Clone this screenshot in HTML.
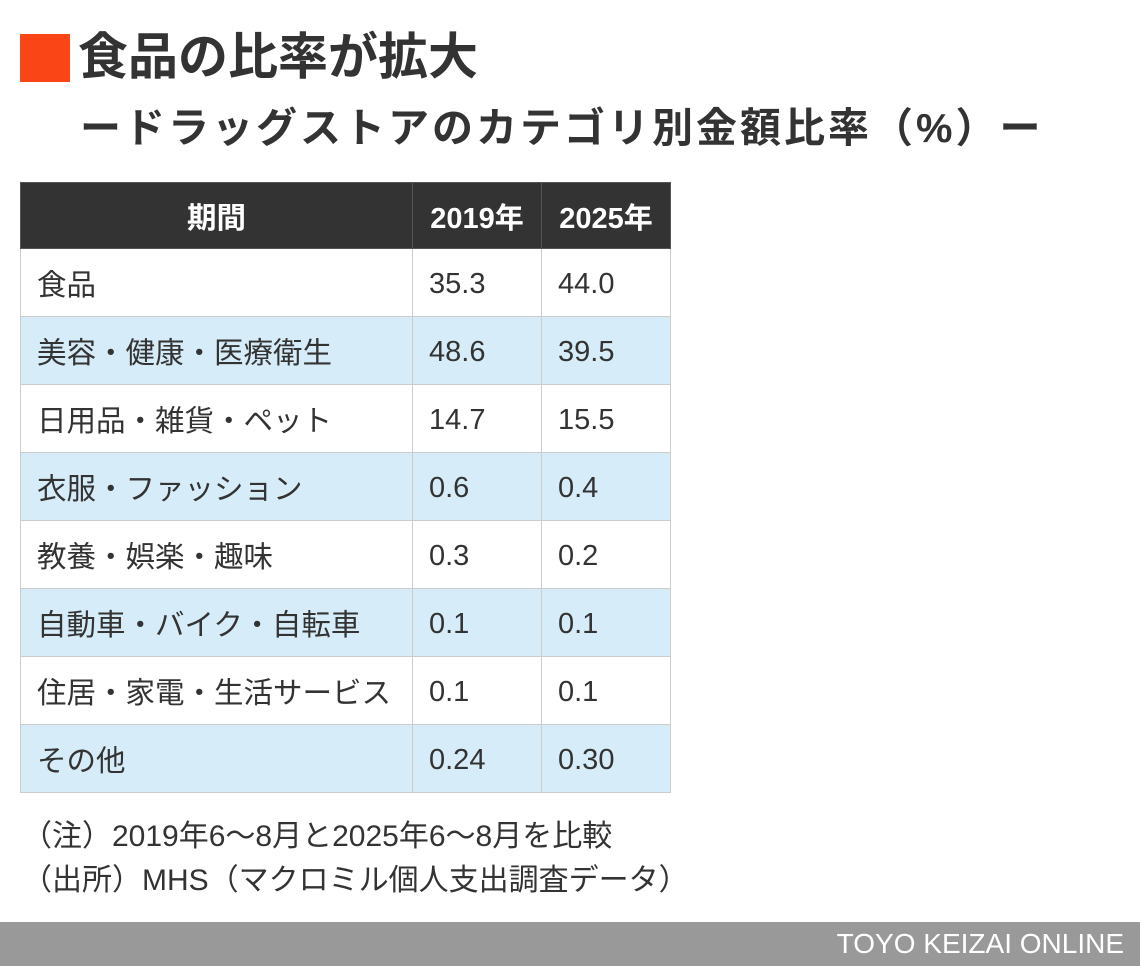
<!DOCTYPE html>
<html><head><meta charset="utf-8"><style>
*{margin:0;padding:0;box-sizing:border-box}
body{width:1140px;height:966px;background:#fff;position:relative;overflow:hidden;font-family:"Liberation Sans","Noto Sans CJK JP",sans-serif;color:#333}
.sq{position:absolute;left:20px;top:34px;width:50px;height:48px;background:#fa4616}
.t1{position:absolute;left:78px;top:26px;font-size:50px;font-weight:bold;line-height:62px;color:#333}
.t2{position:absolute;left:80px;top:102px;font-size:41px;font-weight:bold;line-height:52px;color:#333;letter-spacing:3px}
table{position:absolute;left:20px;top:182px;border-collapse:collapse;width:651px}
td{border:1px solid #ccc;height:68px;font-size:29.5px;padding-left:16px;vertical-align:middle}
td.n{width:129px;font-size:29px;padding-top:4px}
tr.h td{background:#333;color:#fff;font-weight:bold;height:66px;border-color:#555}
tr.h td.c{text-align:center;padding-left:0;padding-top:0}
tr.b td{background:#d6ecf8}
.note{position:absolute;left:22px;font-size:30px;color:#333;line-height:38px}
.foot{position:absolute;left:0;top:922px;width:1140px;height:44px;background:#999}
.foot span{position:absolute;right:16px;top:6px;color:#fff;font-size:28px}
</style></head><body>
<div class="sq"></div>
<div class="t1">食品の比率が拡大</div>
<div class="t2">ードラッグストアのカテゴリ別金額比率（%）ー</div>
<table>
<tr class="h"><td class="c" style="width:392px">期間</td><td class="n c">2019年</td><td class="n c">2025年</td></tr>
<tr><td>食品</td><td class="n">35.3</td><td class="n">44.0</td></tr>
<tr class="b"><td>美容・健康・医療衛生</td><td class="n">48.6</td><td class="n">39.5</td></tr>
<tr><td>日用品・雑貨・ペット</td><td class="n">14.7</td><td class="n">15.5</td></tr>
<tr class="b"><td>衣服・ファッション</td><td class="n">0.6</td><td class="n">0.4</td></tr>
<tr><td>教養・娯楽・趣味</td><td class="n">0.3</td><td class="n">0.2</td></tr>
<tr class="b"><td>自動車・バイク・自転車</td><td class="n">0.1</td><td class="n">0.1</td></tr>
<tr><td>住居・家電・生活サービス</td><td class="n">0.1</td><td class="n">0.1</td></tr>
<tr class="b"><td>その他</td><td class="n">0.24</td><td class="n">0.30</td></tr>
</table>
<div class="note" style="top:818px">（注）2019年6〜8月と2025年6〜8月を比較</div>
<div class="note" style="top:862px">（出所）MHS（マクロミル個人支出調査データ）</div>
<div class="foot"><span>TOYO KEIZAI ONLINE</span></div>
</body></html>
